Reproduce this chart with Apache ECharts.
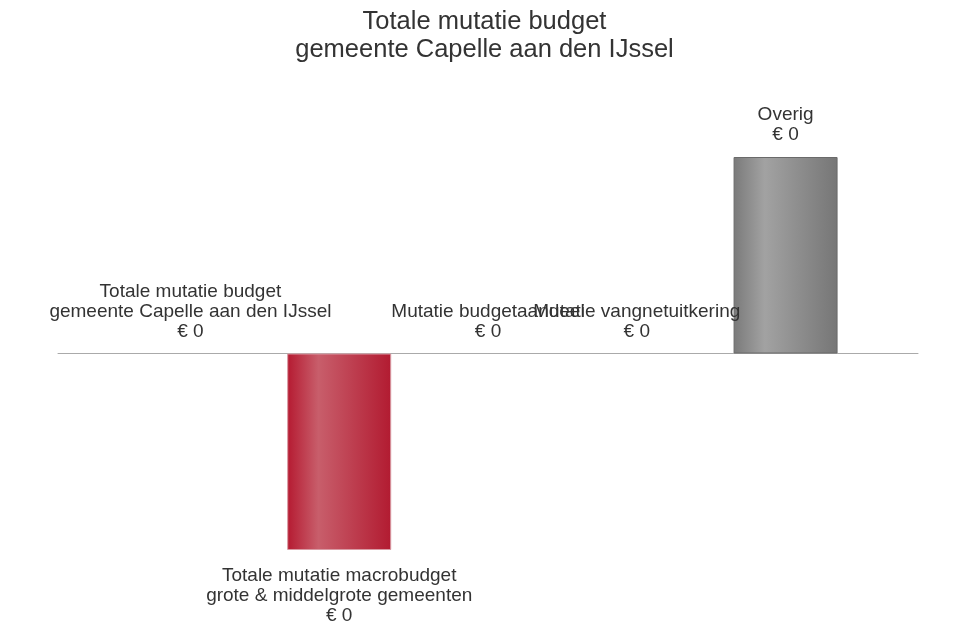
<!DOCTYPE html>
<html>
<head>
<meta charset="utf-8">
<script src="https://cdn.jsdelivr.net/npm/echarts@6/dist/echarts.min.js"></script>
<style>html,body{margin:0;padding:0;background:#fff}#c{width:969px;height:630px}</style>
</head>
<body>
<div id="c"></div>
<script>
const titleText = 'Totale mutatie budget\ngemeente Capelle aan den IJssel';
const categories = [
  'Totale mutatie budget\ngemeente Capelle aan den IJssel',
  'Totale mutatie macrobudget\ngrote & middelgrote gemeenten',
  'Mutatie budgetaandeel',
  'Mutatie vangnetuitkering',
  'Overig'
];
const values = [0, -0.4, 0, 0, 0.4];

const redGrad = new echarts.graphic.LinearGradient(0, 0, 1, 0, [
  {offset: 0, color: '#b51a31'},
  {offset: 0.3, color: '#c85e6b'},
  {offset: 1, color: '#b21b31'}
]);
const grayGrad = new echarts.graphic.LinearGradient(0, 0, 1, 0, [
  {offset: 0, color: '#7a7a7a'},
  {offset: 0.3, color: '#a2a2a2'},
  {offset: 1, color: '#767676'}
]);

const data = values.map((v, i) => ({
  value: [i, v],
  itemStyle: v < 0 ? {color: redGrad, borderColor: '#d99aa3', borderWidth: 1}
           : v > 0 ? {color: grayGrad, borderColor: '#6a6a6a', borderWidth: 1}
           : {color: 'rgba(0,0,0,0)', borderWidth: 0},
  label: v < 0 ? {position: 'bottom', distance: 16} : {position: 'top', distance: 12}
}));

const chart = echarts.init(document.getElementById('c'));
chart.setOption({
  animation: false,
  title: {
    text: titleText,
    left: 'center',
    top: 3,
    textStyle: {fontFamily: 'Liberation Sans', fontSize: 25.5, fontWeight: 'normal', color: '#333', lineHeight: 28}
  },
  grid: {left: 58, right: 51, top: 157, bottom: 80, containLabel: false},
  xAxis: {
    type: 'value', min: -0.89, max: 4.89,
    axisLine: {show: true, onZero: true, lineStyle: {color: '#aaaaaa', width: 1}},
    axisTick: {show: false}, axisLabel: {show: false}, splitLine: {show: false}
  },
  yAxis: {
    type: 'value', min: -0.4, max: 0.4, show: false,
    splitLine: {show: false}
  },
  series: [{
    type: 'bar',
    barWidth: 104,
    data: data,
    label: {
      show: true,
      fontFamily: 'Liberation Sans',
      fontSize: 19,
      lineHeight: 20,
      color: '#333',
      align: 'center',
      formatter: p => categories[p.dataIndex] + '\n€ ' + (Math.round(values[p.dataIndex]) + 0)
    }
  }]
});
</script>
</body>
</html>
